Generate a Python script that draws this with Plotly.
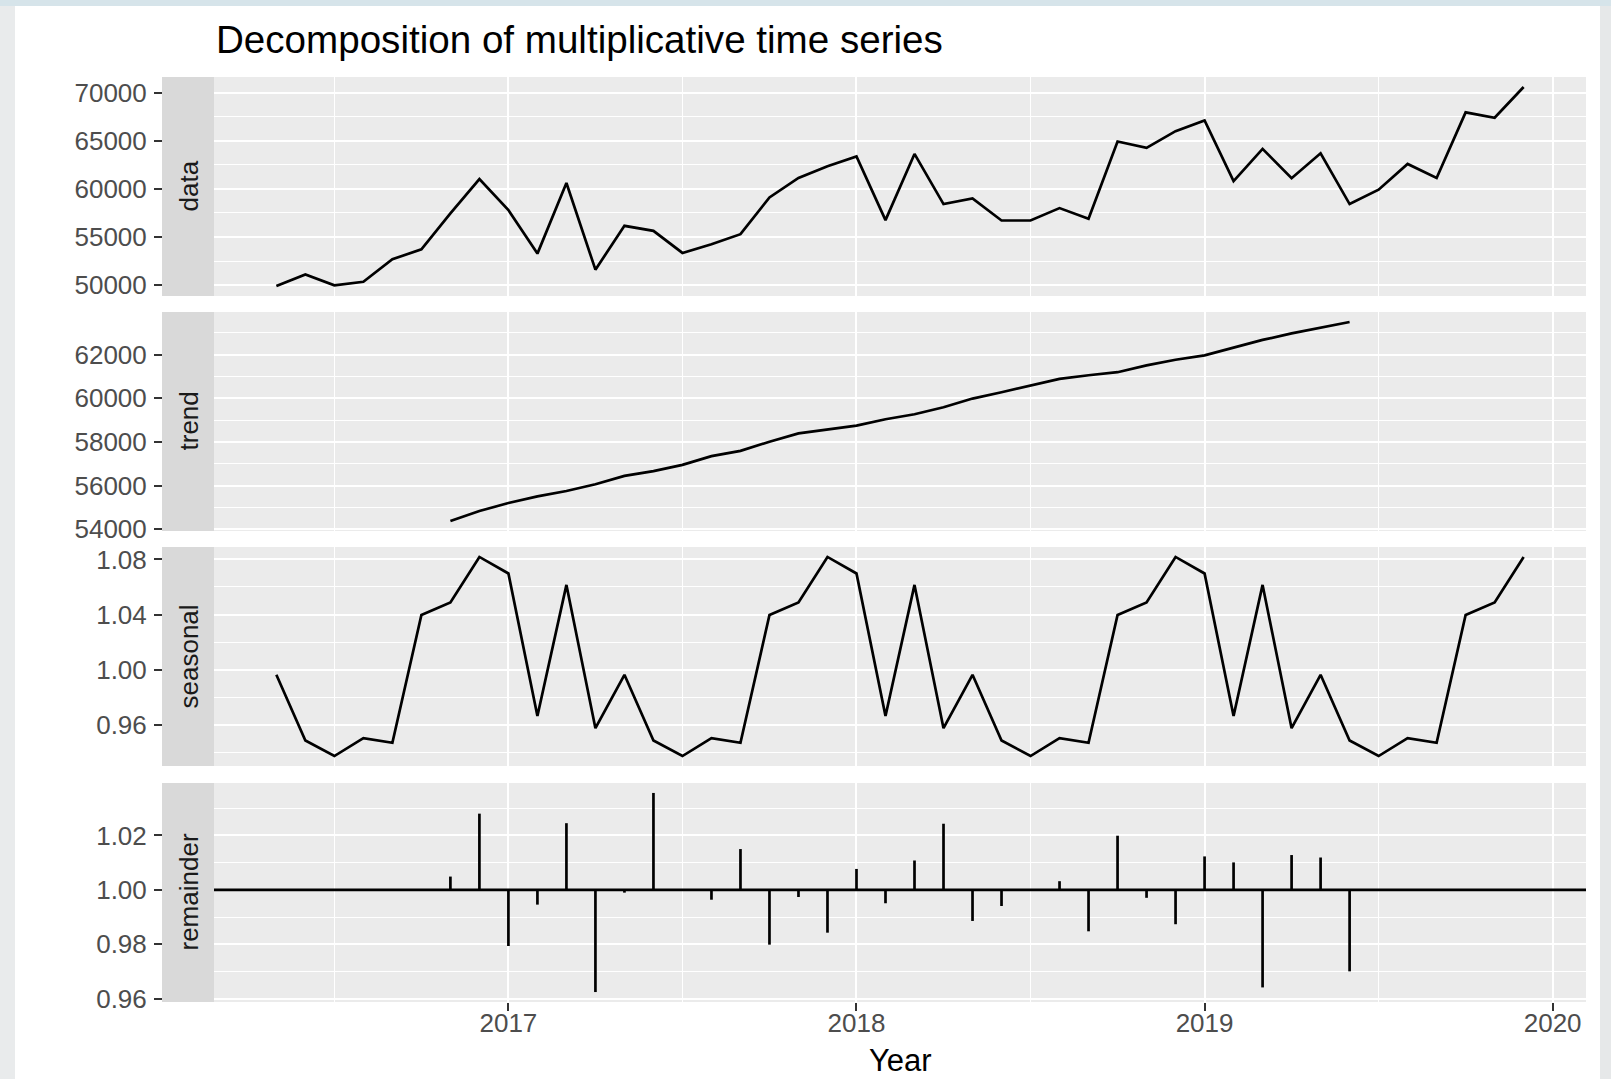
import plotly.graph_objects as go

W, H = 1611, 1079

# ---------------- data ----------------
series_start = (2016, 5)   # first month of observed / seasonal series
trend_start = (2016, 11)   # first month of trend / remainder series

data_values = [
    49900, 51110, 49970, 50350, 52680, 53720, 57450, 61020,
    57790, 53270, 60610, 51600, 56160, 55640, 53340, 54250, 55290, 59110, 61130, 62350,
    63360, 56750, 63630, 58420, 59010, 56710, 56710, 58000, 56890, 64920, 64260, 66000,
    67110, 60800, 64150, 61100, 63700, 58420, 59910, 62590, 61130, 67950, 67390, 70590,
]

trend_values = [
    54370, 54830,
    55200, 55500, 55750, 56060, 56440, 56660, 56950, 57350, 57590, 58010, 58390, 58580,
    58750, 59040, 59270, 59590, 59990, 60280, 60590, 60890, 61060, 61200, 61510, 61770,
    61970, 62310, 62680, 62980, 63230, 63505,
]

seasonal_values = [
    0.9962, 0.9485, 0.9372, 0.9502, 0.9468, 1.0397, 1.0488, 1.0818,
    1.0698, 0.9663, 1.0615, 0.9574, 0.9962, 0.9485, 0.9372, 0.9502, 0.9468, 1.0397, 1.0488, 1.0818,
    1.0698, 0.9663, 1.0615, 0.9574, 0.9962, 0.9485, 0.9372, 0.9502, 0.9468, 1.0397, 1.0488, 1.0818,
    1.0698, 0.9663, 1.0615, 0.9574, 0.9962, 0.9485, 0.9372, 0.9502, 0.9468, 1.0397, 1.0488, 1.0818,
]

remainder_values = [
    1.0049, 1.0280,
    0.9794, 0.9946, 1.0245, 0.9625, 0.9990, 1.0356, 0.9996, 0.9964, 1.0150, 0.9799, 0.9974, 0.9843,
    1.0077, 0.9951, 1.0108, 1.0243, 0.9886, 0.9941, 0.9996, 1.0032, 0.9848, 1.0199, 0.9971, 0.9874,
    1.0123, 1.0101, 0.9642, 1.0128, 1.0119, 0.9701,
]
remainder_base = 1.0

panel_names = ["data", "trend", "seasonal", "remainder"]

year_ticks = [2017, 2018, 2019, 2020]
year_ticktext = ["2017", "2018", "2019", "2020"]
year_minor = [2016.5, 2017.5, 2018.5, 2019.5]

data_ticks = [50000, 55000, 60000, 65000, 70000]
data_ticktext = ["50000", "55000", "60000", "65000", "70000"]
data_minor = [47500, 52500, 57500, 62500, 67500, 72500]

trend_ticks = [54000, 56000, 58000, 60000, 62000]
trend_ticktext = ["54000", "56000", "58000", "60000", "62000"]
trend_minor = [53000, 55000, 57000, 59000, 61000, 63000]

seasonal_ticks = [0.96, 1.00, 1.04, 1.08]
seasonal_ticktext = ["0.96", "1.00", "1.04", "1.08"]
seasonal_minor = [0.94, 0.98, 1.02, 1.06]

remainder_ticks = [0.96, 0.98, 1.00, 1.02]
remainder_ticktext = ["0.96", "0.98", "1.00", "1.02"]
remainder_minor = [0.97, 0.99, 1.01, 1.03]

title_text = "Decomposition of multiplicative time series"
x_title = "Year"


# ---------------- helpers ----------------
def month_positions(start, n):
    y0, m0 = start
    return [y0 + (m0 - 1 + i) / 12.0 for i in range(n)]


def expand(vals, mult=0.05):
    lo, hi = min(vals), max(vals)
    pad = (hi - lo) * mult
    return [lo - pad, hi + pad]


data_x = month_positions(series_start, len(data_values))
seasonal_x = month_positions(series_start, len(seasonal_values))
trend_x = month_positions(trend_start, len(trend_values))
rem_x = month_positions(trend_start, len(remainder_values))

x_range = expand(data_x)

FONT = "Liberation Sans, Arial, Helvetica, sans-serif"
LINE_W = 2.7
PANEL_BG = "#EBEBEB"
STRIP_BG = "#D9D9D9"

# pixel layout
PX_L, PX_R = 214, 1586
STRIP_L = 162
panel_px = [(77, 296), (312, 531), (547, 766), (783, 1002)]


def fx(px):
    return px / W


def fy(py):
    return 1 - py / H


fig = go.Figure()

line_style = dict(color="black", width=LINE_W)
fig.add_trace(go.Scatter(x=data_x, y=data_values, mode="lines", line=line_style,
                         xaxis="x", yaxis="y", showlegend=False, hoverinfo="skip"))
fig.add_trace(go.Scatter(x=trend_x, y=trend_values, mode="lines", line=line_style,
                         xaxis="x2", yaxis="y2", showlegend=False, hoverinfo="skip"))
fig.add_trace(go.Scatter(x=seasonal_x, y=seasonal_values, mode="lines", line=line_style,
                         xaxis="x3", yaxis="y3", showlegend=False, hoverinfo="skip"))

seg_x, seg_y = [], []
for xv, rv in zip(rem_x, remainder_values):
    seg_x += [xv, xv, None]
    seg_y += [remainder_base, rv, None]
fig.add_trace(go.Scatter(x=seg_x, y=seg_y, mode="lines",
                         line=dict(color="black", width=LINE_W),
                         xaxis="x4", yaxis="y4", showlegend=False, hoverinfo="skip"))

y_specs = [
    (data_ticks, data_ticktext, data_minor, expand(data_values)),
    (trend_ticks, trend_ticktext, trend_minor, expand(trend_values)),
    (seasonal_ticks, seasonal_ticktext, seasonal_minor, expand(seasonal_values)),
    (remainder_ticks, remainder_ticktext, remainder_minor, expand(remainder_values)),
]

layout = dict(
    width=W, height=H,
    margin=dict(l=0, r=0, t=0, b=0, autoexpand=False),
    paper_bgcolor="white",
    plot_bgcolor=PANEL_BG,
    font=dict(family=FONT, color="#4D4D4D", size=26),
    showlegend=False,
)

shapes = []
annotations = []
for i, ((top, bot), (tv, tt, mv, rng)) in enumerate(zip(panel_px, y_specs)):
    k = "" if i == 0 else str(i + 1)
    is_bottom = i == 3
    layout["xaxis" + k] = dict(
        domain=[fx(PX_L), fx(PX_R)],
        anchor="y" + k,
        range=x_range,
        automargin=False,
        tickmode="array", tickvals=year_ticks, ticktext=year_ticktext,
        showticklabels=is_bottom,
        ticks="outside" if is_bottom else "",
        ticklen=8, tickwidth=2, tickcolor="#333333",
        tickfont=dict(size=26, color="#4D4D4D", family=FONT),
        ticklabelstandoff=-10,
        showgrid=True, gridcolor="white", gridwidth=2.2,
        minor=dict(tickmode="array", tickvals=year_minor, showgrid=True,
                   gridcolor="white", gridwidth=1.1, ticks=""),
        zeroline=False, showline=False,
    )
    layout["yaxis" + k] = dict(
        domain=[fy(bot), fy(top)],
        anchor="free", position=fx(STRIP_L), side="left",
        range=rng,
        automargin=False,
        tickmode="array", tickvals=tv, ticktext=tt,
        ticks="outside", ticklen=8, tickwidth=2, tickcolor="#333333",
        tickfont=dict(size=26, color="#4D4D4D", family=FONT),
        ticklabelstandoff=2,
        showgrid=True, gridcolor="white", gridwidth=2.2,
        minor=dict(tickmode="array", tickvals=mv, showgrid=True,
                   gridcolor="white", gridwidth=1.1, ticks=""),
        zeroline=False, showline=False,
    )
    # strip
    shapes.append(dict(type="rect", xref="paper", yref="paper",
                       x0=fx(STRIP_L), x1=fx(PX_L), y0=fy(bot), y1=fy(top),
                       fillcolor=STRIP_BG, line=dict(width=0), layer="above"))
    annotations.append(dict(text=panel_names[i], xref="paper", yref="paper",
                            x=fx((STRIP_L + PX_L) / 2), y=fy((top + bot) / 2),
                            xanchor="center", yanchor="middle", textangle=-90,
                            showarrow=False,
                            font=dict(size=26, color="#1A1A1A", family=FONT)))

# reference line at 1 in remainder panel
shapes.append(dict(type="line", xref="x4 domain", yref="y4", x0=0, x1=1,
                   y0=remainder_base, y1=remainder_base,
                   line=dict(color="black", width=LINE_W), layer="above"))

# outer window frame
shapes.append(dict(type="rect", xref="paper", yref="paper", x0=0, x1=fx(15), y0=0, y1=1,
                   fillcolor="#E9EBEC", line=dict(width=0), layer="below"))
shapes.append(dict(type="rect", xref="paper", yref="paper", x0=fx(1600), x1=1, y0=0, y1=1,
                   fillcolor="#E6E8E9", line=dict(width=0), layer="below"))
shapes.append(dict(type="rect", xref="paper", yref="paper", x0=0, x1=1, y0=fy(6), y1=1,
                   fillcolor="#D6E4EA", line=dict(width=0), layer="below"))

annotations.append(dict(text=title_text, xref="paper", yref="paper",
                        x=fx(PX_L), y=fy(39), xanchor="left", yanchor="middle",
                        showarrow=False, font=dict(size=38.6, color="black", family=FONT)))
annotations.append(dict(text=x_title, xref="paper", yref="paper",
                        x=fx((PX_L + PX_R) / 2), y=fy(1060), xanchor="center", yanchor="middle",
                        showarrow=False, font=dict(size=31, color="black", family=FONT)))

layout["shapes"] = shapes
layout["annotations"] = annotations
fig.update_layout(**layout)

fig.write_html(
    "out.html",
    config={"displayModeBar": False},
    post_script="document.body.style.margin='0px';document.body.style.overflow='hidden';",
)
